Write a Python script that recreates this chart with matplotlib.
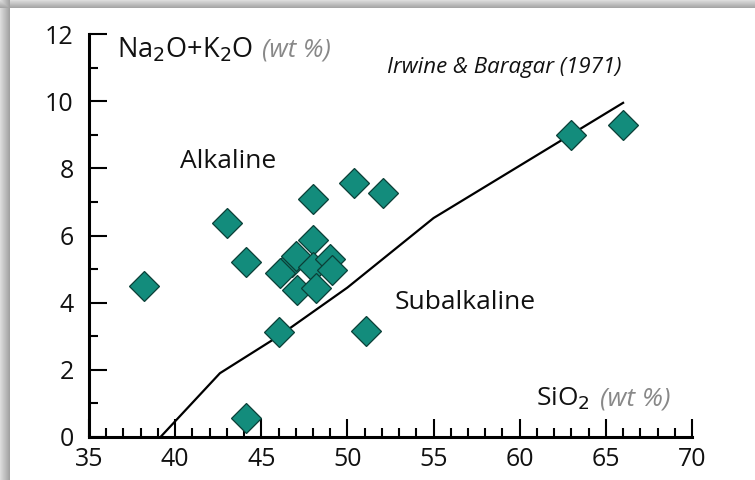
import matplotlib.pyplot as plt
from matplotlib.ticker import MultipleLocator
import numpy as np

# samples (SiO2, Na2O+K2O)
sio2 = [38.2, 43.0, 44.1, 44.1, 46.0, 46.8, 46.1, 47.0, 47.05, 48.0, 48.0, 48.2,
        49.0, 49.1, 48.0, 50.4, 52.05, 51.1, 63.0, 66.0]
alk = [4.5, 6.38, 5.2, 0.57, 3.13, 5.2, 4.88, 5.39, 4.38, 5.87, 5.06, 4.43,
       5.30, 4.98, 7.08, 7.56, 7.28, 3.16, 9.0, 9.3]

# Irvine & Baragar (1971) alkaline/subalkaline divide
line_x = [39.15, 42.6, 46.0, 50.0, 55.0, 66.0]
line_y = [0.0, 1.9, 3.0, 4.45, 6.52, 9.95]

plt.rcParams['font.family'] = ['Open Sans', 'DejaVu Sans']

fig = plt.figure(figsize=(7.55, 4.8), dpi=100)

# card shadow on the top and left edges
bg = fig.add_axes([0, 0, 1, 1], zorder=-10)
img = np.ones((480, 755))
for i in range(10):
    img[:, i] = np.minimum(img[:, i], 0.86 - 0.025 * i)
for j in range(8):
    img[j, :] = np.minimum(img[j, :], 0.86 - 0.03 * j)
bg.imshow(img, cmap='gray', vmin=0, vmax=1, aspect='auto')
bg.axis('off')

ax = fig.add_axes([89 / 755, 43 / 480, 603 / 755, 403 / 480])
ax.patch.set_alpha(0)

ax.plot(line_x, line_y, color='black', lw=1.6, zorder=2)
ax.plot(sio2, alk, ls='none', marker='D', markersize=15,
        markerfacecolor='#138c7c', markeredgecolor='#0b3f37',
        markeredgewidth=0.9, zorder=3, clip_on=False)

ax.set_xlim(35, 70)
ax.set_ylim(0, 12)
ax.xaxis.set_major_locator(MultipleLocator(5))
ax.xaxis.set_minor_locator(MultipleLocator(1))
ax.yaxis.set_major_locator(MultipleLocator(2))
ax.yaxis.set_minor_locator(MultipleLocator(1))
ax.tick_params(which='both', direction='in', width=1.5, color='black',
               labelsize=18, labelcolor='#111111')
ax.tick_params(which='major', length=13)
ax.tick_params(which='minor', length=6.5)
ax.tick_params(axis='x', which='major', pad=7.5)
ax.tick_params(axis='y', which='major', pad=11)
for s in ['top', 'right']:
    ax.spines[s].set_visible(False)
for s in ['left', 'bottom']:
    ax.spines[s].set_linewidth(2.2)

ax.text(36.6, 11.53, 'Na$_2$O+K$_2$O', fontsize=19.5, va='center', color='#111111')
ax.text(45.04, 11.53, '(wt %)', fontsize=18.5, va='center', style='italic', color='#888888')
ax.text(52.3, 11.0, 'Irwine & Baragar (1971)', fontsize=16, va='center',
        style='italic', color='#111111')
ax.text(40.3, 8.2, 'Alkaline', fontsize=19, va='center', color='#111111')
ax.text(52.76, 4.0, 'Subalkaline', fontsize=19, va='center', color='#111111')
ax.text(60.94, 1.13, 'SiO$_2$', fontsize=19, va='center', color='#111111')
ax.text(64.66, 1.13, '(wt %)', fontsize=19, va='center', style='italic', color='#888888')

plt.savefig('out.png', dpi=100)
